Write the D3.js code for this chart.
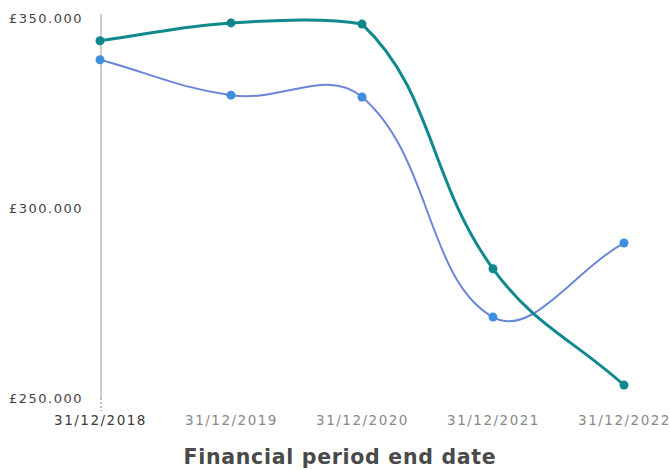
<!DOCTYPE html>
<html>
<head>
<meta charset="utf-8">
<script src="https://cdn.jsdelivr.net/npm/d3@7"></script>
<style>
  body { margin: 0; background: #fff; }
  svg { display: block; }
</style>
</head>
<body>
<div id="lineChart"></div>
<script>
// period end dates and the two series (GBP)
var periods = ["31/12/2018", "31/12/2019", "31/12/2020", "31/12/2021", "31/12/2022"];
var tealValues = [344000, 348700, 348400, 284000, 253400];
var blueValues = [339000, 329700, 329200, 271300, 290800];
var yTicks = [250000, 300000, 350000];
var yTickLabels = ["£250.000", "£300.000", "£350.000"];
var xTitle = "Financial period end date";

var w = 670, h = 470;

var svg = d3.select("#lineChart").append("svg")
    .attr("width", w)
    .attr("height", h);

// Domain and ranges
var xscale = d3.scalePoint()
    .domain(periods)
    .range([100, 624]);

var yscale = d3.scaleLinear()
    .domain([250000, 350000])
    .range([398, 18]);

// y axis: just the vertical rule and left-aligned labels
var yAxis = svg.append("g")
    .attr("transform", "translate(101,0)")
    .call(d3.axisLeft(yscale).tickValues(yTicks).tickSize(0)
        .tickFormat(function(d, i) { return yTickLabels[i]; }));

yAxis.select(".domain").remove();
yAxis.selectAll("text")
    .attr("x", -92)
    .attr("text-anchor", "start")
    .style("font-family", "DejaVu Sans")
    .style("font-size", "13px")
    .style("letter-spacing", "1.5px")
    .style("fill", "#444");

svg.append("line")
    .attr("x1", 101).attr("x2", 101)
    .attr("y1", 14).attr("y2", yscale(250000))
    .style("stroke", "#9a9a9a")
    .style("stroke-width", 1);

svg.append("line")
    .attr("x1", 101).attr("x2", 101)
    .attr("y1", yscale(250000)).attr("y2", 411)
    .style("stroke", "#777")
    .style("stroke-width", 1)
    .style("stroke-dasharray", "2,2");

// x axis labels
var xAxis = svg.append("g")
    .attr("transform", "translate(0,412)")
    .call(d3.axisBottom(xscale).tickSize(0));

xAxis.select(".domain").remove();
xAxis.selectAll("text")
    .attr("y", 3)
    .style("font-family", "DejaVu Sans")
    .style("font-size", "13.5px")
    .style("letter-spacing", "1.5px")
    .style("fill", function(d, i) { return i == 0 ? "#3a3a3a" : "#888"; });

svg.append("text")
    .attr("x", 340)
    .attr("y", 464)
    .attr("text-anchor", "middle")
    .style("font-family", "DejaVu Sans")
    .style("font-weight", "bold")
    .style("font-size", "20.5px")
    .style("letter-spacing", "0.7px")
    .style("fill", "#4a4a4a")
    .text(xTitle);

// Lines: spline with tension 0.4, control points kept inside the plot area
var area = { left: 100, right: 624, top: 18, bottom: 398 };

function splinePath(values, tension) {
    var pts = values.map(function(d, i) {
        return [xscale(periods[i]), yscale(d)];
    });
    var cps = pts.map(function(p, i) {
        var p0 = pts[i - 1] || p, p2 = pts[i + 1] || p;
        var d01 = Math.hypot(p[0] - p0[0], p[1] - p0[1]);
        var d12 = Math.hypot(p2[0] - p[0], p2[1] - p[1]);
        var s01 = d01 / (d01 + d12) || 0, s12 = d12 / (d01 + d12) || 0;
        var fa = tension * s01, fb = tension * s12;
        var cap = function(x, y) {
            return [Math.max(area.left, Math.min(area.right, x)),
                    Math.max(area.top, Math.min(area.bottom, y))];
        };
        return {
            prev: cap(p[0] - fa * (p2[0] - p0[0]), p[1] - fa * (p2[1] - p0[1])),
            next: cap(p[0] + fb * (p2[0] - p0[0]), p[1] + fb * (p2[1] - p0[1]))
        };
    });
    var path = d3.path();
    path.moveTo(pts[0][0], pts[0][1]);
    for (var i = 1; i < pts.length; i++) {
        path.bezierCurveTo(cps[i - 1].next[0], cps[i - 1].next[1],
            cps[i].prev[0], cps[i].prev[1], pts[i][0], pts[i][1]);
    }
    return path.toString();
}

svg.append("path")
    .attr("d", splinePath(blueValues, 0.4))
    .attr("stroke", "#6a86d6")
    .attr("stroke-width", 2)
    .attr("fill", "none");

svg.append("path")
    .attr("d", splinePath(tealValues, 0.4))
    .attr("stroke", "#10898e")
    .attr("stroke-width", 3)
    .attr("fill", "none");

svg.selectAll(".dotBlue")
    .data(blueValues)
    .enter().append("circle")
    .attr("class", "dotBlue")
    .attr("cx", function(d, i) { return xscale(periods[i]); })
    .attr("cy", function(d) { return yscale(d); })
    .attr("r", 4.5)
    .attr("fill", "#3f8ee0");

svg.selectAll(".dotTeal")
    .data(tealValues)
    .enter().append("circle")
    .attr("class", "dotTeal")
    .attr("cx", function(d, i) { return xscale(periods[i]); })
    .attr("cy", function(d) { return yscale(d); })
    .attr("r", 4.5)
    .attr("fill", "#0f878c");
</script>
</body>
</html>
